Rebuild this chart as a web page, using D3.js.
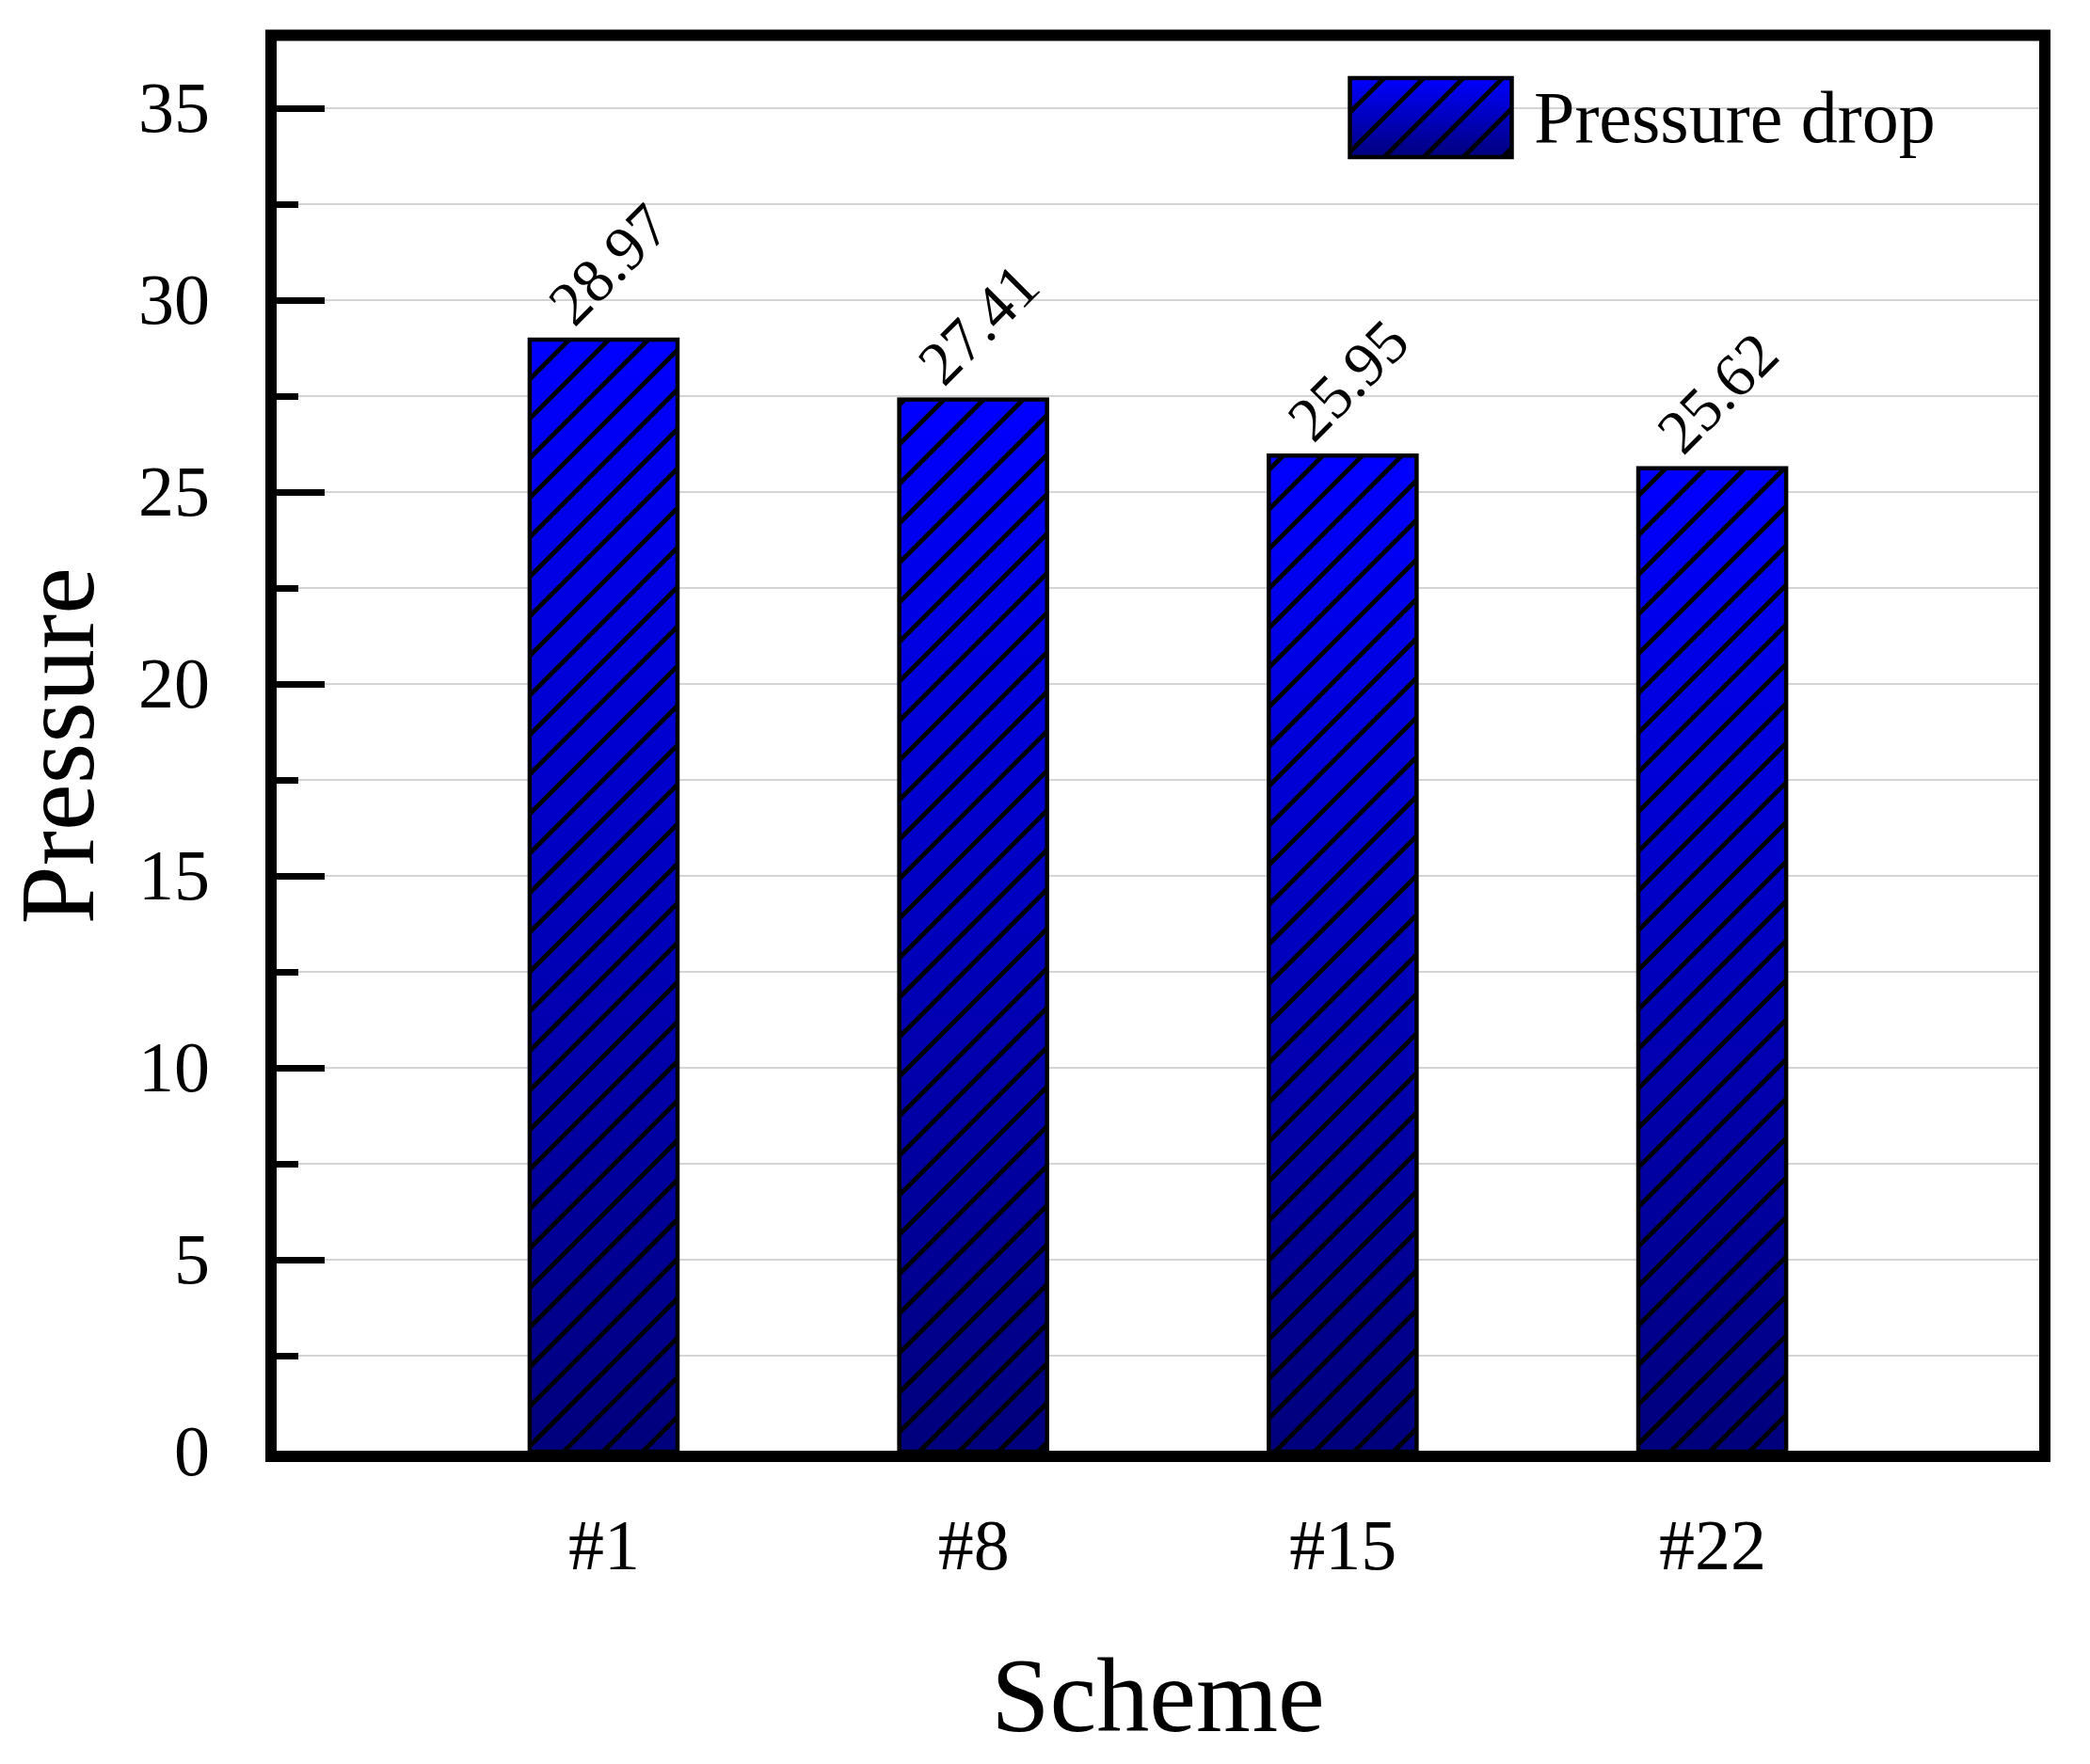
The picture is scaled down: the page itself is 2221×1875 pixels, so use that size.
<!DOCTYPE html>
<html>
<head>
<meta charset="utf-8">
<script src="https://cdn.jsdelivr.net/npm/d3@7"></script>
<style>
  body { margin: 0; background: #fff; }
  svg text { font-family: "Liberation Serif", "Times New Roman", serif; fill: #000; }
</style>
</head>
<body>
<div id="chart"></div>
<script>
// data
const schemes = ["#1", "#8", "#15", "#22"];
const pressureDrop = [28.97, 27.41, 25.95, 25.62];
const majorTicks = [0, 5, 10, 15, 20, 25, 30, 35];
const minorTicks = [2.5, 7.5, 12.5, 17.5, 22.5, 27.5, 32.5];

const W = 2221, H = 1875;
const box = {left: 288, right: 2173, top: 37.5, bottom: 1548};

const svg = d3.select("#chart")
    .append("svg")
    .attr("width", W)
    .attr("height", H);

const defs = svg.append("defs");

// blue -> navy gradient per bar
const grad = defs.append("linearGradient")
    .attr("id", "barGrad")
    .attr("x1", 0).attr("y1", 0)
    .attr("x2", 0).attr("y2", 1);
grad.append("stop").attr("offset", "0%").attr("stop-color", "#0000ff");
grad.append("stop").attr("offset", "100%").attr("stop-color", "#00007c");

// "/" hatch
const hatch = defs.append("pattern")
    .attr("id", "hatch")
    .attr("patternUnits", "userSpaceOnUse")
    .attr("width", 42).attr("height", 42);
hatch.append("path")
    .attr("d", "M0,42 L42,0 M-10.5,10.5 L10.5,-10.5 M31.5,52.5 L52.5,31.5")
    .attr("stroke", "#000")
    .attr("stroke-width", 5);

const x = d3.scaleLinear()
    .domain([0.1, 4.9])
    .range([box.left, box.right]);

const y = d3.scaleLinear()
    .domain([0, 35])
    .range([1543, 115]);

const barW = (x(2) - x(1)) * 0.4;

// grid lines
svg.append("g")
    .selectAll("line")
    .data(majorTicks.concat(minorTicks).filter(d => d > 0))
    .enter().append("line")
    .attr("x1", box.left)
    .attr("x2", box.right)
    .attr("y1", d => y(d))
    .attr("y2", d => y(d))
    .attr("stroke", "#c6c6c6")
    .attr("stroke-width", 1.5);

// bars
const bars = svg.append("g");
schemes.forEach(function(s, i) {
    const bx = x(i + 1) - barW / 2;
    const by = y(pressureDrop[i]);
    const bh = y(0) - by;
    bars.append("rect")
        .attr("x", bx).attr("y", by)
        .attr("width", barW).attr("height", bh)
        .attr("fill", "url(#barGrad)");
    bars.append("rect")
        .attr("x", bx).attr("y", by)
        .attr("width", barW).attr("height", bh)
        .attr("fill", "url(#hatch)")
        .attr("stroke", "#000")
        .attr("stroke-width", 4.5);
});

// value labels, rotated
svg.append("g")
    .selectAll("text")
    .data(pressureDrop)
    .enter().append("text")
    .attr("transform", (d, i) => `translate(${x(i + 1) + 6}, ${y(d) - 80}) rotate(-45)`)
    .attr("text-anchor", "middle")
    .attr("dy", "0.33em")
    .attr("font-size", "66px")
    .text(d => d.toFixed(2));

// y axis: major + minor ticks pointing inward
const yAxis = svg.append("g")
    .attr("transform", `translate(${box.left}, 0)`)
    .call(d3.axisLeft(y).tickValues(majorTicks).tickSize(-57).tickPadding(65).tickFormat(d3.format("d")));
yAxis.select(".domain").remove();
yAxis.selectAll(".tick line")
    .attr("stroke", "#000")
    .attr("stroke-width", 7)
    .attr("display", d => d === 0 ? "none" : null);
yAxis.selectAll(".tick text")
    .attr("font-size", "76px")
    .attr("font-family", "Liberation Serif, Times New Roman, serif");

const yMinor = svg.append("g")
    .attr("transform", `translate(${box.left}, 0)`)
    .call(d3.axisLeft(y).tickValues(minorTicks).tickSize(-29).tickFormat(""));
yMinor.select(".domain").remove();
yMinor.selectAll(".tick line").attr("stroke", "#000").attr("stroke-width", 7);

// x axis labels
const xAxis = svg.append("g")
    .attr("transform", `translate(0, ${box.bottom})`)
    .call(d3.axisBottom(x).tickValues([1, 2, 3, 4]).tickSize(0).tickPadding(66)
        .tickFormat((d, i) => schemes[i]));
xAxis.select(".domain").remove();
xAxis.selectAll(".tick text")
    .attr("font-size", "76px")
    .attr("font-family", "Liberation Serif, Times New Roman, serif");

// frame
svg.append("rect")
    .attr("x", box.left)
    .attr("y", box.top)
    .attr("width", box.right - box.left)
    .attr("height", box.bottom - box.top)
    .attr("fill", "none")
    .attr("stroke", "#000")
    .attr("stroke-width", 12);

// axis titles
svg.append("text")
    .attr("x", (box.left + box.right) / 2)
    .attr("y", 1840)
    .attr("text-anchor", "middle")
    .attr("font-size", "112px")
    .text("Scheme");

svg.append("text")
    .attr("transform", `translate(99, ${(box.top + box.bottom) / 2}) rotate(-90)`)
    .attr("text-anchor", "middle")
    .attr("font-size", "112px")
    .text("Pressure");

// legend
const legend = svg.append("g");
legend.append("rect")
    .attr("x", 1434.5).attr("y", 83)
    .attr("width", 172).attr("height", 84)
    .attr("fill", "url(#barGrad)");
legend.append("rect")
    .attr("x", 1434.5).attr("y", 83)
    .attr("width", 172).attr("height", 84)
    .attr("fill", "url(#hatch)")
    .attr("stroke", "#000")
    .attr("stroke-width", 4.5);
legend.append("text")
    .attr("x", 1630)
    .attr("y", 151)
    .attr("font-size", "78px")
    .text("Pressure drop");
</script>
</body>
</html>
